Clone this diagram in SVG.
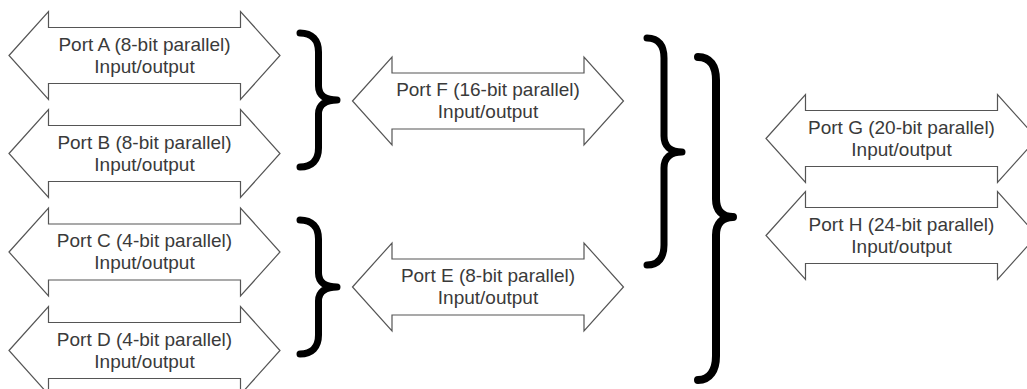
<svg xmlns="http://www.w3.org/2000/svg" xmlns:xlink="http://www.w3.org/1999/xlink" width="1027" height="389" viewBox="0 0 1027 389">
<defs>
<style>
.arrow{fill:#ffffff;stroke:#555555;stroke-width:1.2;stroke-linejoin:miter}
.lbl{font-family:"Liberation Sans",Arial,sans-serif;font-size:19px;fill:#3a3a3a;text-anchor:middle}
.brace{fill:none;stroke:#000000;stroke-linecap:round;stroke-linejoin:round}
.small{stroke-width:7}
.big{stroke-width:8}
</style>
<path id="dblArrow" class="arrow" d="M-135.5,0 L-96,-44 L-96,-28 L96,-28 L96,-44 L135.5,0 L96,44 L96,28 L-96,28 L-96,44 Z"/>
</defs>
<rect width="1027" height="389" fill="#ffffff"/>

<g id="connectors">
<path class="brace small" d="M300,33 C312,33 318.5,40 318.5,52 L318.5,86 C318.5,95 325,100 337,100 C325,100 318.5,105 318.5,114 L318.5,148 C318.5,160 312,167 300,167"/>
<path class="brace small" d="M300,220 C312,220 318.5,227 318.5,239 L318.5,273 C318.5,282 325,287 337,287 C325,287 318.5,292 318.5,301 L318.5,335 C318.5,347 312,354 300,354"/>
<path class="brace small" d="M647,38 C659,38 664,46 664,58 L664,136 C664,146 670,152 682,152 C670,152 664,158 664,168 L664,245 C664,257 659,265 647,265"/>
<path class="brace big" d="M698,57 C710,57 716,66 716,80 L716,199 C716,210 722,217 733,217 C722,217 716,224 716,235 L716,356 C716,370 710,380 698,380"/>
</g>

<g id="portA">
<use xlink:href="#dblArrow" transform="translate(144.5,55.5)"/>
<text class="lbl" x="144.5" y="50.5">Port A (8-bit parallel)</text>
<text class="lbl" x="144.5" y="72.5">Input/output</text>
</g>
<g id="portB">
<use xlink:href="#dblArrow" transform="translate(144.5,153.5)"/>
<text class="lbl" x="144.5" y="148.5">Port B (8-bit parallel)</text>
<text class="lbl" x="144.5" y="170.5">Input/output</text>
</g>
<g id="portC">
<use xlink:href="#dblArrow" transform="translate(144.5,252)"/>
<text class="lbl" x="144.5" y="247">Port C (4-bit parallel)</text>
<text class="lbl" x="144.5" y="269">Input/output</text>
</g>
<g id="portD">
<use xlink:href="#dblArrow" transform="translate(144.5,350.5)"/>
<text class="lbl" x="144.5" y="345.5">Port D (4-bit parallel)</text>
<text class="lbl" x="144.5" y="367.5">Input/output</text>
</g>
<g id="portF">
<use xlink:href="#dblArrow" transform="translate(488,101)"/>
<text class="lbl" x="488" y="95.5">Port F (16-bit parallel)</text>
<text class="lbl" x="488" y="117.5">Input/output</text>
</g>
<g id="portE">
<use xlink:href="#dblArrow" transform="translate(488,287)"/>
<text class="lbl" x="488" y="281.5">Port E (8-bit parallel)</text>
<text class="lbl" x="488" y="303.5">Input/output</text>
</g>
<g id="portG">
<use xlink:href="#dblArrow" transform="translate(901.5,138.5)"/>
<text class="lbl" x="901.5" y="133.5">Port G (20-bit parallel)</text>
<text class="lbl" x="901.5" y="155.5">Input/output</text>
</g>
<g id="portH">
<use xlink:href="#dblArrow" transform="translate(901.5,235.5)"/>
<text class="lbl" x="901.5" y="230.5">Port H (24-bit parallel)</text>
<text class="lbl" x="901.5" y="252.5">Input/output</text>
</g>
</svg>
